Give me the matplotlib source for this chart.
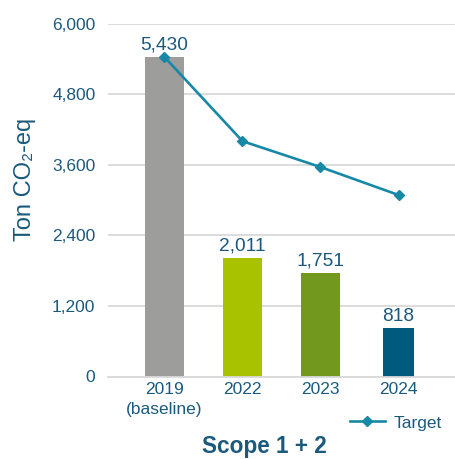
import matplotlib
matplotlib.use("Agg")
import matplotlib.pyplot as plt
from matplotlib.lines import Line2D

categories = ["2019\n(baseline)", "2022", "2023", "2024"]
values = [5430, 2011, 1751, 818]
target = [5430, 4000, 3560, 3085]
yticks = [0, 1200, 2400, 3600, 4800, 6000]

bar_colors = ["#9d9d9c", "#a8c200", "#72981e", "#005a7e"]
bar_widths = [0.5, 0.5, 0.5, 0.4]
text_color = "#1b5a7d"
line_color = "#1788a6"

plt.rcParams['font.family'] = ['Liberation Sans', 'DejaVu Sans']

fig = plt.figure(figsize=(4.56, 4.59), dpi=100)
ax = fig.add_axes([108/456, 1-376.5/459, 1-108/456, 353/459])

x = list(range(len(categories)))
ax.bar(x, values, width=bar_widths, color=bar_colors, zorder=2)
ax.plot(x, target, color=line_color, lw=1.9, marker='D', markersize=5, zorder=3)

for xi, v in zip(x, values):
    ax.annotate(f"{v:,}", (xi, v), xytext=(0, 5.5), textcoords='offset points',
                ha='center', va='baseline', fontsize=13.8, color=text_color)

ax.set_ylim(0, 6000)
ax.set_xlim(-0.724, 3.737)
ax.set_yticks(yticks)
ax.set_yticklabels([f"{t:,}" for t in yticks])
ax.set_xticks(x)
ax.set_xticklabels(categories, linespacing=1.45)
ax.tick_params(axis='both', length=0, labelsize=12.5, labelcolor=text_color)
ax.tick_params(axis='y', pad=9)
ax.tick_params(axis='x', pad=4)
ax.grid(axis='y', color='#d9d9d9', lw=1.3, zorder=0)
for s in ['top', 'right', 'left']:
    ax.spines[s].set_visible(False)
ax.spines['bottom'].set_color('#d9d9d9')
ax.spines['bottom'].set_linewidth(1.3)

fig.text(25/456, 1-179.5/459, "Ton CO₂-eq", rotation=90, ha='center', va='center',
         fontsize=17, color=text_color)
fig.text(264.5/456, 1-453/459, "Scope 1 + 2", ha='center', va='baseline',
         fontsize=16.3, fontweight='bold', color=text_color)

handle = Line2D([], [], color=line_color, lw=1.9, marker='D', markersize=5)
fig.legend([handle], ["Target"], loc='center left', bbox_to_anchor=(350/456, 1-423/459),
           frameon=False, fontsize=12.5, labelcolor=text_color, borderpad=0,
           borderaxespad=0, handlelength=2.0, handletextpad=0.5)

fig.savefig("out.png", dpi=100)
